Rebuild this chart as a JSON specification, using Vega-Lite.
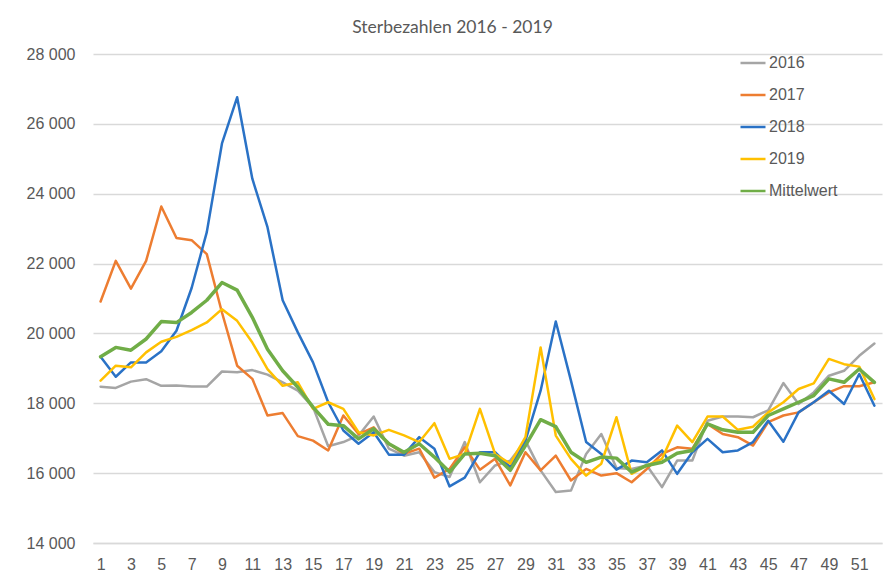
{
 "$schema": "https://vega.github.io/schema/vega-lite/v6.json",
 "width": 789,
 "height": 489,
 "autosize": "none",
 "padding": {"left": 93, "top": 54, "right": 9, "bottom": 36},
 "background": "white",
 "title": {"text": "Sterbezahlen 2016 - 2019", "font": "Lato", "fontSize": 17.5, "fontWeight": "normal", "color": "#595959", "anchor": "middle", "frame": "group", "dx": -35, "offset": 10},
 "config": {"view": {"stroke": null}},
 "datasets": {
  "d": [
   {"w":1,"s":"2016","v":18476},{"w":2,"s":"2016","v":18440},{"w":3,"s":"2016","v":18620},{"w":4,"s":"2016","v":18690},{"w":5,"s":"2016","v":18500},{"w":6,"s":"2016","v":18510},{"w":7,"s":"2016","v":18480},{"w":8,"s":"2016","v":18480},{"w":9,"s":"2016","v":18910},{"w":10,"s":"2016","v":18890},{"w":11,"s":"2016","v":18950},{"w":12,"s":"2016","v":18820},{"w":13,"s":"2016","v":18600},{"w":14,"s":"2016","v":18360},{"w":15,"s":"2016","v":17890},{"w":16,"s":"2016","v":16770},{"w":17,"s":"2016","v":16890},{"w":18,"s":"2016","v":17080},{"w":19,"s":"2016","v":17620},{"w":20,"s":"2016","v":16700},{"w":21,"s":"2016","v":16500},{"w":22,"s":"2016","v":16600},{"w":23,"s":"2016","v":16030},{"w":24,"s":"2016","v":15890},{"w":25,"s":"2016","v":16890},{"w":26,"s":"2016","v":15740},{"w":27,"s":"2016","v":16220},{"w":28,"s":"2016","v":16360},{"w":29,"s":"2016","v":16930},{"w":30,"s":"2016","v":16080},{"w":31,"s":"2016","v":15460},{"w":32,"s":"2016","v":15500},{"w":33,"s":"2016","v":16550},{"w":34,"s":"2016","v":17120},{"w":35,"s":"2016","v":16150},{"w":36,"s":"2016","v":16120},{"w":37,"s":"2016","v":16220},{"w":38,"s":"2016","v":15600},{"w":39,"s":"2016","v":16360},{"w":40,"s":"2016","v":16360},{"w":41,"s":"2016","v":17500},{"w":42,"s":"2016","v":17620},{"w":43,"s":"2016","v":17620},{"w":44,"s":"2016","v":17600},{"w":45,"s":"2016","v":17800},{"w":46,"s":"2016","v":18580},{"w":47,"s":"2016","v":17980},{"w":48,"s":"2016","v":18310},{"w":49,"s":"2016","v":18790},{"w":50,"s":"2016","v":18930},{"w":51,"s":"2016","v":19360},{"w":52,"s":"2016","v":19710},
   {"w":1,"s":"2017","v":20914},{"w":2,"s":"2017","v":22077},{"w":3,"s":"2017","v":21280},{"w":4,"s":"2017","v":22077},{"w":5,"s":"2017","v":23635},{"w":6,"s":"2017","v":22730},{"w":7,"s":"2017","v":22670},{"w":8,"s":"2017","v":22270},{"w":9,"s":"2017","v":20600},{"w":10,"s":"2017","v":19076},{"w":11,"s":"2017","v":18700},{"w":12,"s":"2017","v":17650},{"w":13,"s":"2017","v":17720},{"w":14,"s":"2017","v":17060},{"w":15,"s":"2017","v":16930},{"w":16,"s":"2017","v":16650},{"w":17,"s":"2017","v":17650},{"w":18,"s":"2017","v":17120},{"w":19,"s":"2017","v":17310},{"w":20,"s":"2017","v":16840},{"w":21,"s":"2017","v":16550},{"w":22,"s":"2017","v":16700},{"w":23,"s":"2017","v":15870},{"w":24,"s":"2017","v":16120},{"w":25,"s":"2017","v":16740},{"w":26,"s":"2017","v":16100},{"w":27,"s":"2017","v":16410},{"w":28,"s":"2017","v":15650},{"w":29,"s":"2017","v":16600},{"w":30,"s":"2017","v":16080},{"w":31,"s":"2017","v":16500},{"w":32,"s":"2017","v":15790},{"w":33,"s":"2017","v":16120},{"w":34,"s":"2017","v":15930},{"w":35,"s":"2017","v":16000},{"w":36,"s":"2017","v":15740},{"w":37,"s":"2017","v":16120},{"w":38,"s":"2017","v":16550},{"w":39,"s":"2017","v":16740},{"w":40,"s":"2017","v":16700},{"w":41,"s":"2017","v":17410},{"w":42,"s":"2017","v":17120},{"w":43,"s":"2017","v":17030},{"w":44,"s":"2017","v":16790},{"w":45,"s":"2017","v":17460},{"w":46,"s":"2017","v":17650},{"w":47,"s":"2017","v":17740},{"w":48,"s":"2017","v":18030},{"w":49,"s":"2017","v":18310},{"w":50,"s":"2017","v":18490},{"w":51,"s":"2017","v":18490},{"w":52,"s":"2017","v":18600},
   {"w":1,"s":"2018","v":19333},{"w":2,"s":"2018","v":18760},{"w":3,"s":"2018","v":19170},{"w":4,"s":"2018","v":19170},{"w":5,"s":"2018","v":19490},{"w":6,"s":"2018","v":20076},{"w":7,"s":"2018","v":21300},{"w":8,"s":"2018","v":22900},{"w":9,"s":"2018","v":25440},{"w":10,"s":"2018","v":26760},{"w":11,"s":"2018","v":24430},{"w":12,"s":"2018","v":23040},{"w":13,"s":"2018","v":20950},{"w":14,"s":"2018","v":20030},{"w":15,"s":"2018","v":19170},{"w":16,"s":"2018","v":18030},{"w":17,"s":"2018","v":17220},{"w":18,"s":"2018","v":16840},{"w":19,"s":"2018","v":17170},{"w":20,"s":"2018","v":16530},{"w":21,"s":"2018","v":16530},{"w":22,"s":"2018","v":17030},{"w":23,"s":"2018","v":16700},{"w":24,"s":"2018","v":15620},{"w":25,"s":"2018","v":15870},{"w":26,"s":"2018","v":16600},{"w":27,"s":"2018","v":16600},{"w":28,"s":"2018","v":16170},{"w":29,"s":"2018","v":16930},{"w":30,"s":"2018","v":18360},{"w":31,"s":"2018","v":20340},{"w":32,"s":"2018","v":18650},{"w":33,"s":"2018","v":16890},{"w":34,"s":"2018","v":16550},{"w":35,"s":"2018","v":16100},{"w":36,"s":"2018","v":16360},{"w":37,"s":"2018","v":16310},{"w":38,"s":"2018","v":16650},{"w":39,"s":"2018","v":15980},{"w":40,"s":"2018","v":16600},{"w":41,"s":"2018","v":16980},{"w":42,"s":"2018","v":16600},{"w":43,"s":"2018","v":16650},{"w":44,"s":"2018","v":16890},{"w":45,"s":"2018","v":17500},{"w":46,"s":"2018","v":16900},{"w":47,"s":"2018","v":17740},{"w":48,"s":"2018","v":18030},{"w":49,"s":"2018","v":18360},{"w":50,"s":"2018","v":17980},{"w":51,"s":"2018","v":18840},{"w":52,"s":"2018","v":17930},
   {"w":1,"s":"2019","v":18650},{"w":2,"s":"2019","v":19076},{"w":3,"s":"2019","v":19030},{"w":4,"s":"2019","v":19457},{"w":5,"s":"2019","v":19760},{"w":6,"s":"2019","v":19900},{"w":7,"s":"2019","v":20095},{"w":8,"s":"2019","v":20314},{"w":9,"s":"2019","v":20695},{"w":10,"s":"2019","v":20360},{"w":11,"s":"2019","v":19740},{"w":12,"s":"2019","v":18980},{"w":13,"s":"2019","v":18500},{"w":14,"s":"2019","v":18600},{"w":15,"s":"2019","v":17840},{"w":16,"s":"2019","v":18030},{"w":17,"s":"2019","v":17840},{"w":18,"s":"2019","v":17170},{"w":19,"s":"2019","v":17080},{"w":20,"s":"2019","v":17240},{"w":21,"s":"2019","v":17080},{"w":22,"s":"2019","v":16890},{"w":23,"s":"2019","v":17430},{"w":24,"s":"2019","v":16410},{"w":25,"s":"2019","v":16550},{"w":26,"s":"2019","v":17840},{"w":27,"s":"2019","v":16550},{"w":28,"s":"2019","v":16270},{"w":29,"s":"2019","v":17030},{"w":30,"s":"2019","v":19600},{"w":31,"s":"2019","v":17076},{"w":32,"s":"2019","v":16410},{"w":33,"s":"2019","v":15930},{"w":34,"s":"2019","v":16270},{"w":35,"s":"2019","v":17600},{"w":36,"s":"2019","v":15980},{"w":37,"s":"2019","v":16220},{"w":38,"s":"2019","v":16410},{"w":39,"s":"2019","v":17360},{"w":40,"s":"2019","v":16890},{"w":41,"s":"2019","v":17620},{"w":42,"s":"2019","v":17620},{"w":43,"s":"2019","v":17240},{"w":44,"s":"2019","v":17330},{"w":45,"s":"2019","v":17740},{"w":46,"s":"2019","v":18030},{"w":47,"s":"2019","v":18410},{"w":48,"s":"2019","v":18570},{"w":49,"s":"2019","v":19270},{"w":50,"s":"2019","v":19120},{"w":51,"s":"2019","v":19050},{"w":52,"s":"2019","v":18120},
   {"w":1,"s":"Mittelwert","v":19333},{"w":2,"s":"Mittelwert","v":19600},{"w":3,"s":"Mittelwert","v":19520},{"w":4,"s":"Mittelwert","v":19840},{"w":5,"s":"Mittelwert","v":20340},{"w":6,"s":"Mittelwert","v":20310},{"w":7,"s":"Mittelwert","v":20600},{"w":8,"s":"Mittelwert","v":20950},{"w":9,"s":"Mittelwert","v":21457},{"w":10,"s":"Mittelwert","v":21240},{"w":11,"s":"Mittelwert","v":20460},{"w":12,"s":"Mittelwert","v":19550},{"w":13,"s":"Mittelwert","v":18930},{"w":14,"s":"Mittelwert","v":18460},{"w":15,"s":"Mittelwert","v":17890},{"w":16,"s":"Mittelwert","v":17400},{"w":17,"s":"Mittelwert","v":17360},{"w":18,"s":"Mittelwert","v":16980},{"w":19,"s":"Mittelwert","v":17270},{"w":20,"s":"Mittelwert","v":16840},{"w":21,"s":"Mittelwert","v":16600},{"w":22,"s":"Mittelwert","v":16840},{"w":23,"s":"Mittelwert","v":16460},{"w":24,"s":"Mittelwert","v":16030},{"w":25,"s":"Mittelwert","v":16550},{"w":26,"s":"Mittelwert","v":16570},{"w":27,"s":"Mittelwert","v":16500},{"w":28,"s":"Mittelwert","v":16080},{"w":29,"s":"Mittelwert","v":16790},{"w":30,"s":"Mittelwert","v":17530},{"w":31,"s":"Mittelwert","v":17330},{"w":32,"s":"Mittelwert","v":16600},{"w":33,"s":"Mittelwert","v":16310},{"w":34,"s":"Mittelwert","v":16460},{"w":35,"s":"Mittelwert","v":16430},{"w":36,"s":"Mittelwert","v":16030},{"w":37,"s":"Mittelwert","v":16220},{"w":38,"s":"Mittelwert","v":16310},{"w":39,"s":"Mittelwert","v":16570},{"w":40,"s":"Mittelwert","v":16650},{"w":41,"s":"Mittelwert","v":17410},{"w":42,"s":"Mittelwert","v":17240},{"w":43,"s":"Mittelwert","v":17170},{"w":44,"s":"Mittelwert","v":17170},{"w":45,"s":"Mittelwert","v":17650},{"w":46,"s":"Mittelwert","v":17840},{"w":47,"s":"Mittelwert","v":18030},{"w":48,"s":"Mittelwert","v":18220},{"w":49,"s":"Mittelwert","v":18700},{"w":50,"s":"Mittelwert","v":18600},{"w":51,"s":"Mittelwert","v":18980},{"w":52,"s":"Mittelwert","v":18600}
  ]
 },
 "data": {"name": "d"},
 "mark": {"type": "line", "strokeJoin": "round", "strokeCap": "round"},
 "encoding": {
  "x": {"field": "w", "type": "quantitative",
   "scale": {"domain": [0.5, 52.5], "nice": false, "zero": false},
   "axis": {"values": [1,3,5,7,9,11,13,15,17,19,21,23,25,27,29,31,33,35,37,39,41,43,45,47,49,51], "title": null, "grid": false, "ticks": false, "domain": true, "domainColor": "#d9d9d9", "domainWidth": 1.5, "labelFont": "Arial, Liberation Sans, sans-serif", "labelFontSize": 16, "labelColor": "#595959", "labelPadding": 13, "labelFlush": false, "labelOverlap": false}},
  "y": {"field": "v", "type": "quantitative",
   "scale": {"domain": [14000, 28000], "nice": false, "zero": false},
   "axis": {"values": [14000,16000,18000,20000,22000,24000,26000,28000], "title": null, "domain": false, "ticks": false, "gridColor": "#d9d9d9", "gridWidth": 1.5, "labelExpr": "replace(format(datum.value, ','), ',', ' ')", "labelFont": "Arial, Liberation Sans, sans-serif", "labelFontSize": 16, "labelColor": "#595959", "labelPadding": 18}},
  "color": {"field": "s", "type": "nominal",
   "scale": {"domain": ["2016","2017","2018","2019","Mittelwert"], "range": ["#A5A5A5","#ED7D31","#2A72C6","#FFC000","#70AD47"]},
   "legend": {"orient": "none", "legendX": 646, "legendY": -5, "title": null, "symbolType": "stroke", "symbolSize": 625, "symbolStrokeWidth": 2.5, "labelFont": "Arial, Liberation Sans, sans-serif", "labelFontSize": 16, "labelColor": "#595959", "rowPadding": 10, "labelOffset": 2}},
  "strokeWidth": {"condition": {"test": "datum.s === 'Mittelwert'", "value": 3.5}, "value": 2.5}
 }
}
